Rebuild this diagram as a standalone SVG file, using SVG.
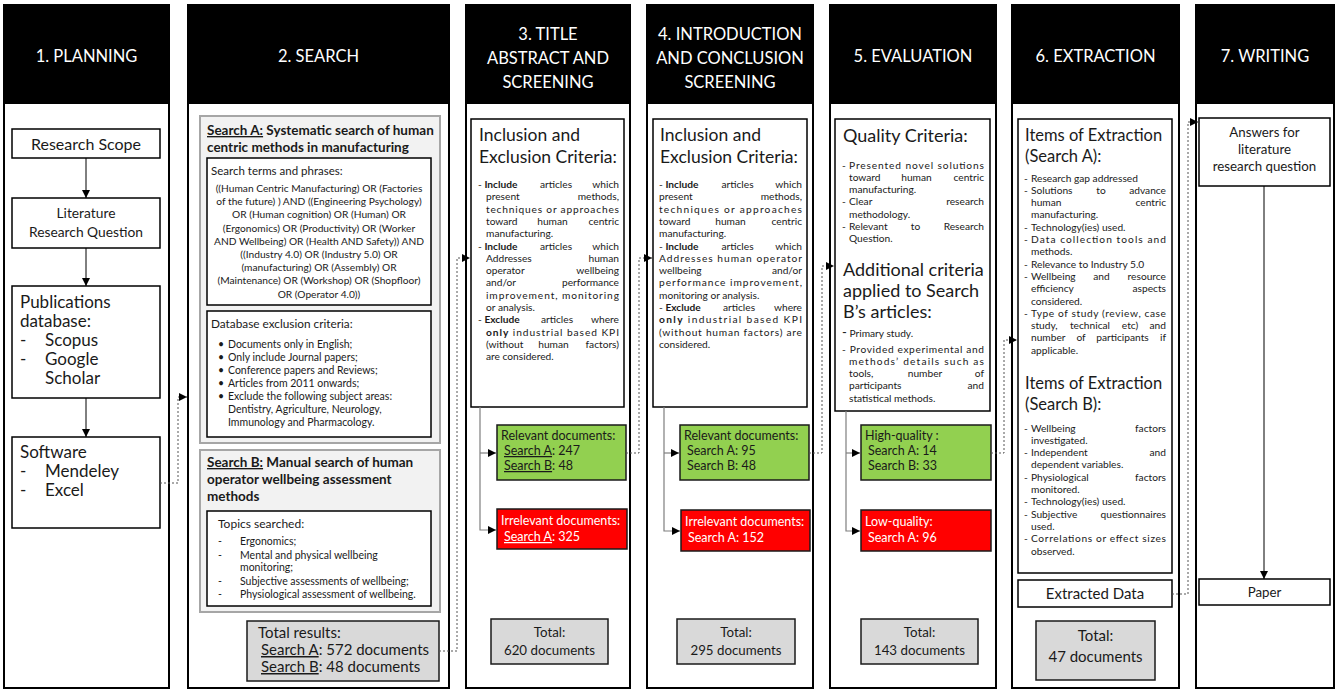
<svg xmlns="http://www.w3.org/2000/svg" width="1339" height="691" viewBox="0 0 1339 691">
<defs>
<style>
text{font-family:Lato,"Liberation Sans",sans-serif;fill:#1a1a1a}
.col{fill:#fff;stroke:#000;stroke-width:2}
.hdr{fill:#000}
.ht{font-size:16.5px;fill:#fff;text-anchor:middle}
.box{fill:#fff;stroke:#000;stroke-width:1.5}
.gbox{fill:#f2f2f2;stroke:#a6a6a6;stroke-width:2}
.green{fill:#92d050;stroke:#1a1a1a;stroke-width:1.5}
.red{fill:#ff0000;stroke:#1a1a1a;stroke-width:1.5}
.tot{fill:#d9d9d9;stroke:#1a1a1a;stroke-width:1.5}
.ln{stroke:#000;stroke-width:1;fill:none}
.gl{stroke:#7f7f7f;stroke-width:1.2;fill:none}
.dot{stroke:#555;stroke-width:1;stroke-dasharray:2 2;fill:none}
.c{text-anchor:middle}
.e{text-anchor:end}
.s{font-size:10.2px}
.q{font-size:10.2px;text-anchor:middle}
.t17{font-size:17.5px}
.t16{font-size:16.5px}
.t15{font-size:15px}
.t13{font-size:13.3px}
.t12{font-size:12.5px}
.w{fill:#fff}
.b{font-weight:bold}
.u{text-decoration:underline}
</style>
<marker id="ah" viewBox="0 0 10 10" refX="10" refY="5" markerWidth="8" markerHeight="8" markerUnits="userSpaceOnUse" orient="auto"><path d="M0,0L10,5L0,10z" fill="#000"/></marker>
</defs>

<!-- Column 1 -->
<g id="col1">
<rect class="col" x="4" y="5" width="165" height="683"/>
<rect class="hdr" x="4" y="5" width="165" height="99"/>
<text class="ht" x="86.5" y="62">1. PLANNING</text>
</g>
<g id="research-scope">
<rect class="box" x="12" y="129" width="148" height="29"/>
<text class="c" font-size="16" x="86" y="149.5">Research Scope</text>
</g>
<g id="literature-question">
<rect class="box" x="12" y="198" width="148" height="50"/>
<text class="c" font-size="13.8" x="86" y="218">Literature</text>
<text class="c" font-size="13.8" x="86" y="237">Research Question</text>
</g>
<g id="publications">
<rect class="box" x="12" y="286" width="148" height="112"/>
<text font-size="17" x="20" y="308">Publications</text>
<text font-size="17" x="20" y="327">database:</text>
<text font-size="17" x="20" y="346">-</text><text font-size="17" x="45" y="346">Scopus</text>
<text font-size="17" x="20" y="365">-</text><text font-size="17" x="45" y="365">Google</text>
<text font-size="17" x="45" y="384">Scholar</text>
</g>
<g id="software">
<rect class="box" x="12" y="437" width="148" height="91"/>
<text font-size="17" x="20" y="458">Software</text>
<text font-size="17" x="20" y="477">-</text><text font-size="17" x="45" y="477">Mendeley</text>
<text font-size="17" x="20" y="496">-</text><text font-size="17" x="45" y="496">Excel</text>
</g>

<!-- Column 2 -->
<g id="col2">
<rect class="col" x="188" y="5" width="261" height="683"/>
<rect class="hdr" x="188" y="5" width="261" height="99"/>
<text class="ht" x="318.5" y="62">2. SEARCH</text>
</g>
<g id="search-a">
<rect class="gbox" x="200" y="116" width="240" height="327"/>
<text class="b" font-size="13.5" x="207" y="135"><tspan class="u">Search A:</tspan> Systematic search of human</text>
<text class="b" font-size="13.5" x="207" y="152">centric methods in manufacturing</text>
<rect class="box" x="207" y="158" width="224" height="147"/>
<text font-size="11.5" x="211" y="175">Search terms and phrases:</text>
<text class="q" x="319" y="192">((Human Centric Manufacturing) OR (Factories</text>
<text class="q" x="319" y="205.2">of the future) ) AND ((Engineering Psychology)</text>
<text class="q" x="319" y="218.4">OR (Human cognition) OR (Human) OR</text>
<text class="q" x="319" y="231.6">(Ergonomics) OR (Productivity) OR (Worker</text>
<text class="q" x="319" y="244.8">AND Wellbeing) OR (Health AND Safety)) AND</text>
<text class="q" x="319" y="258">((Industry 4.0) OR (Industry 5.0) OR</text>
<text class="q" x="319" y="271.2">(manufacturing) OR (Assembly) OR</text>
<text class="q" x="319" y="284.4">(Maintenance) OR (Workshop) OR (Shopfloor)</text>
<text class="q" x="319" y="297.6">OR (Operator 4.0))</text>
<rect class="box" x="207" y="311" width="224" height="126"/>
<text font-size="11.8" x="211" y="328">Database exclusion criteria:</text>
<g font-size="10.5">
<text x="218" y="348">•</text><text x="228" y="348">Documents only in English;</text>
<text x="218" y="361">•</text><text x="228" y="361">Only include Journal papers;</text>
<text x="218" y="374">•</text><text x="228" y="374">Conference papers and Reviews;</text>
<text x="218" y="387">•</text><text x="228" y="387">Articles from 2011 onwards;</text>
<text x="218" y="400">•</text><text x="228" y="400">Exclude the following subject areas:</text>
<text x="228" y="413">Dentistry, Agriculture, Neurology,</text>
<text x="228" y="426">Immunology and Pharmacology.</text>
</g>
</g>
<g id="search-b">
<rect class="gbox" x="200" y="450" width="240" height="162"/>
<text class="b" font-size="13.5" x="207" y="467"><tspan class="u">Search B:</tspan> Manual search of human</text>
<text class="b" font-size="13.5" x="207" y="484">operator wellbeing assessment</text>
<text class="b" font-size="13.5" x="207" y="501">methods</text>
<rect class="box" x="207" y="511" width="224" height="95"/>
<text font-size="12" x="218" y="528">Topics searched:</text>
<g font-size="10.5">
<text x="218" y="545">-</text><text x="240" y="545">Ergonomics;</text>
<text x="218" y="558.5">-</text><text x="240" y="558.5">Mental and physical wellbeing</text>
<text x="240" y="571">monitoring;</text>
<text x="218" y="584.5">-</text><text x="240" y="584.5">Subjective assessments of wellbeing;</text>
<text x="218" y="598">-</text><text x="240" y="598">Physiological assessment of wellbeing.</text>
</g>
</g>
<g id="total-results">
<rect class="tot" x="247" y="621" width="192" height="60"/>
<text class="t15" x="258" y="638">Total results:</text>
<text class="t15" x="261" y="655"><tspan class="u">Search A</tspan>: 572 documents</text>
<text class="t15" x="261" y="672"><tspan class="u">Search B</tspan>: 48 documents</text>
</g>

<!-- Column 3 -->
<g id="col3">
<rect class="col" x="466" y="5" width="164" height="683"/>
<rect class="hdr" x="466" y="5" width="164" height="99"/>
<text class="ht" x="548" y="40">3. TITLE</text>
<text class="ht" x="548" y="64">ABSTRACT AND</text>
<text class="ht" x="548" y="88">SCREENING</text>
</g>
<g id="criteria3">
<rect class="box" x="471" y="119" width="153" height="288"/>
<text class="t17" x="479" y="141">Inclusion and</text>
<text class="t17" x="479" y="163">Exclusion Criteria:</text>
<g class="s">
<text x="478" y="188">- <tspan class="b">Include</tspan></text><text class="c" x="556" y="188">articles</text><text class="e" x="619" y="188">which</text>
<text x="486" y="200.3">present</text><text class="e" x="619" y="200.3">methods,</text>
<text x="486" y="212.6" textLength="133" lengthAdjust="spacing">techniques or approaches</text>
<text x="486" y="224.9">toward</text><text class="c" x="552.5" y="224.9">human</text><text class="e" x="619" y="224.9">centric</text>
<text x="486" y="237.2">manufacturing.</text>
<text x="478" y="249.5">- <tspan class="b">Include</tspan></text><text class="c" x="556" y="249.5">articles</text><text class="e" x="619" y="249.5">which</text>
<text x="486" y="261.8">Addresses</text><text class="e" x="619" y="261.8">human</text>
<text x="486" y="274.1">operator</text><text class="e" x="619" y="274.1">wellbeing</text>
<text x="486" y="286.4">and/or</text><text class="e" x="619" y="286.4">performance</text>
<text x="486" y="298.7" textLength="133" lengthAdjust="spacing">improvement, monitoring</text>
<text x="486" y="311">or analysis.</text>
<text x="478" y="323.3">- <tspan class="b">Exclude</tspan></text><text class="c" x="557" y="323.3">articles</text><text class="e" x="619" y="323.3">where</text>
<text x="486" y="335.6" textLength="133" lengthAdjust="spacing"><tspan class="b">only</tspan> industrial based KPI</text>
<text x="486" y="347.9">(without</text><text class="c" x="553.5" y="347.9">human</text><text class="e" x="619" y="347.9">factors)</text>
<text x="486" y="360.2">are considered.</text>
</g>
</g>
<g id="relevant3">
<rect class="green" x="497" y="425" width="129" height="55"/>
<text class="t12" x="501" y="440">Relevant documents:</text>
<text class="t12" x="504" y="455"><tspan class="u">Search A</tspan>: 247</text>
<text class="t12" x="504" y="470"><tspan class="u">Search B</tspan>: 48</text>
</g>
<g id="irrelevant3">
<rect class="red" x="497" y="509" width="130" height="40"/>
<text class="t12 w" x="501" y="525">Irrelevant documents:</text>
<text class="t12 w" x="504" y="541"><tspan class="u">Search A</tspan>: 325</text>
</g>
<g id="total3">
<rect class="tot" x="491" y="619" width="117" height="45"/>
<text class="t13 c" x="549.5" y="637">Total:</text>
<text class="t13 c" x="549.5" y="655">620 documents</text>
</g>

<!-- Column 4 -->
<g id="col4">
<rect class="col" x="647" y="5" width="166" height="683"/>
<rect class="hdr" x="647" y="5" width="166" height="99"/>
<text class="ht" x="730" y="40">4. INTRODUCTION</text>
<text class="ht" x="730" y="64">AND CONCLUSION</text>
<text class="ht" x="730" y="88">SCREENING</text>
</g>
<g id="criteria4">
<rect class="box" x="653" y="119" width="154" height="288"/>
<text class="t17" x="660" y="141">Inclusion and</text>
<text class="t17" x="660" y="163">Exclusion Criteria:</text>
<g class="s">
<text x="659" y="188">- <tspan class="b">Include</tspan></text><text class="c" x="737.5" y="188">articles</text><text class="e" x="802" y="188">which</text>
<text x="659" y="200.3">present</text><text class="e" x="802" y="200.3">methods,</text>
<text x="659" y="212.6" textLength="143" lengthAdjust="spacing">techniques or approaches</text>
<text x="659" y="224.9">toward</text><text class="c" x="730.5" y="224.9">human</text><text class="e" x="802" y="224.9">centric</text>
<text x="659" y="237.2">manufacturing.</text>
<text x="659" y="249.5">- <tspan class="b">Include</tspan></text><text class="c" x="737.5" y="249.5">articles</text><text class="e" x="802" y="249.5">which</text>
<text x="659" y="261.8" textLength="143" lengthAdjust="spacing">Addresses human operator</text>
<text x="659" y="274.1">wellbeing</text><text class="e" x="802" y="274.1">and/or</text>
<text x="659" y="286.4" textLength="143" lengthAdjust="spacing">performance improvement,</text>
<text x="659" y="298.7">monitoring or analysis.</text>
<text x="659" y="311">- <tspan class="b">Exclude</tspan></text><text class="c" x="739" y="311">articles</text><text class="e" x="802" y="311">where</text>
<text x="659" y="323.3" textLength="143" lengthAdjust="spacing"><tspan class="b">only</tspan> industrial based KPI</text>
<text x="659" y="335.6" textLength="143" lengthAdjust="spacing">(without human factors) are</text>
<text x="659" y="347.9">considered.</text>
</g>
</g>
<g id="relevant4">
<rect class="green" x="680" y="425" width="129" height="55"/>
<text class="t12" x="684" y="440">Relevant documents:</text>
<text class="t12" x="687" y="455">Search A: 95</text>
<text class="t12" x="687" y="470">Search B: 48</text>
</g>
<g id="irrelevant4">
<rect class="red" x="681" y="510" width="129" height="41"/>
<text class="t12 w" x="685" y="526">Irrelevant documents:</text>
<text class="t12 w" x="688" y="542">Search A: 152</text>
</g>
<g id="total4">
<rect class="tot" x="677" y="619" width="118" height="45"/>
<text class="t13 c" x="736" y="637">Total:</text>
<text class="t13 c" x="736" y="655">295 documents</text>
</g>

<!-- Column 5 -->
<g id="col5">
<rect class="col" x="830" y="5" width="166" height="683"/>
<rect class="hdr" x="830" y="5" width="166" height="99"/>
<text class="ht" x="913" y="62">5. EVALUATION</text>
</g>
<g id="quality5">
<rect class="box" x="835" y="119" width="155" height="292"/>
<text font-size="18" x="843" y="142">Quality Criteria:</text>
<g class="s">
<text x="842" y="168.5">-</text><text x="849" y="168.5" textLength="135" lengthAdjust="spacing">Presented novel solutions</text>
<text x="849" y="180.8">toward</text><text class="c" x="916.5" y="180.8">human</text><text class="e" x="984" y="180.8">centric</text>
<text x="849" y="193.1">manufacturing.</text>
<text x="842" y="205.4">-</text><text x="849" y="205.4">Clear</text><text class="e" x="984" y="205.4">research</text>
<text x="849" y="217.7">methodology.</text>
<text x="842" y="230">-</text><text x="849" y="230">Relevant</text><text class="c" x="915.5" y="230">to</text><text class="e" x="984" y="230">Research</text>
<text x="849" y="242.3">Question.</text>
</g>
<text font-size="18" x="843" y="276">Additional criteria</text>
<text font-size="18" x="843" y="297">applied to Search</text>
<text font-size="18" x="843" y="318">B’s articles:</text>
<g class="s">
<text x="842" y="337"><tspan font-size="13">-</tspan> Primary study.</text>
<text x="842" y="352.5" textLength="142" lengthAdjust="spacing">- Provided experimental and</text>
<text x="849" y="364.8" textLength="135" lengthAdjust="spacing">methods’ details such as</text>
<text x="849" y="377.1">tools,</text><text class="c" x="925" y="377.1">number</text><text class="e" x="984" y="377.1">of</text>
<text x="849" y="389.4">participants</text><text class="e" x="984" y="389.4">and</text>
<text x="849" y="401.7">statistical methods.</text>
</g>
</g>
<g id="high5">
<rect class="green" x="861" y="425" width="130" height="55"/>
<text class="t12" x="865" y="440">High-quality :</text>
<text class="t12" x="868" y="455">Search A: 14</text>
<text class="t12" x="868" y="470">Search B: 33</text>
</g>
<g id="low5">
<rect class="red" x="861" y="510" width="130" height="41"/>
<text class="t12 w" x="865" y="526">Low-quality:</text>
<text class="t12 w" x="868" y="542">Search A: 96</text>
</g>
<g id="total5">
<rect class="tot" x="861" y="619" width="117" height="45"/>
<text class="t13 c" x="919.5" y="637">Total:</text>
<text class="t13 c" x="919.5" y="655">143 documents</text>
</g>

<!-- Column 6 -->
<g id="col6">
<rect class="col" x="1012" y="5" width="167" height="683"/>
<rect class="hdr" x="1012" y="5" width="167" height="99"/>
<text class="ht" x="1095.5" y="62">6. EXTRACTION</text>
</g>
<g id="items6">
<rect class="box" x="1018" y="119" width="154" height="454"/>
<text class="t16" x="1025" y="141">Items of Extraction</text>
<text class="t16" x="1025" y="162">(Search A):</text>
<g class="s">
<text x="1024" y="181.5">-</text><text x="1031" y="181.5">Research gap addressed</text>
<text x="1024" y="193.8">-</text><text x="1031" y="193.8">Solutions</text><text class="c" x="1101" y="193.8">to</text><text class="e" x="1166" y="193.8">advance</text>
<text x="1031" y="206.1">human</text><text class="e" x="1166" y="206.1">centric</text>
<text x="1031" y="218.4">manufacturing.</text>
<text x="1024" y="230.7">-</text><text x="1031" y="230.7">Technology(ies) used.</text>
<text x="1024" y="243">-</text><text x="1031" y="243" textLength="135" lengthAdjust="spacing">Data collection tools and</text>
<text x="1031" y="255.3">methods.</text>
<text x="1024" y="267.6">-</text><text x="1031" y="267.6">Relevance to Industry 5.0</text>
<text x="1024" y="279.9">-</text><text x="1031" y="279.9">Wellbeing</text><text class="c" x="1101.5" y="279.9">and</text><text class="e" x="1166" y="279.9">resource</text>
<text x="1031" y="292.2">efficiency</text><text class="e" x="1166" y="292.2">aspects</text>
<text x="1031" y="304.5">considered.</text>
<text x="1024" y="316.8">-</text><text x="1031" y="316.8" textLength="135" lengthAdjust="spacing">Type of study (review, case</text>
<text x="1031" y="329.1">study,</text><text class="c" x="1090" y="329.1">technical</text><text class="c" x="1130" y="329.1">etc)</text><text class="e" x="1166" y="329.1">and</text>
<text x="1031" y="341.4">number</text><text class="c" x="1081" y="341.4">of</text><text class="c" x="1122.5" y="341.4">participants</text><text class="e" x="1166" y="341.4">if</text>
<text x="1031" y="353.7">applicable.</text>
</g>
<text class="t16" x="1025" y="389">Items of Extraction</text>
<text class="t16" x="1025" y="410">(Search B):</text>
<g class="s">
<text x="1024" y="431.5">-</text><text x="1031" y="431.5">Wellbeing</text><text class="e" x="1166" y="431.5">factors</text>
<text x="1031" y="443.8">investigated.</text>
<text x="1024" y="456.1">-</text><text x="1031" y="456.1">Independent</text><text class="e" x="1166" y="456.1">and</text>
<text x="1031" y="468.4">dependent variables.</text>
<text x="1024" y="480.7">-</text><text x="1031" y="480.7">Physiological</text><text class="e" x="1166" y="480.7">factors</text>
<text x="1031" y="493">monitored.</text>
<text x="1024" y="505.3">-</text><text x="1031" y="505.3">Technology(ies) used.</text>
<text x="1024" y="517.6">-</text><text x="1031" y="517.6">Subjective</text><text class="e" x="1166" y="517.6">questionnaires</text>
<text x="1031" y="529.9">used.</text>
<text x="1024" y="542.2">-</text><text x="1031" y="542.2" textLength="135" lengthAdjust="spacing">Correlations or effect sizes</text>
<text x="1031" y="554.5">observed.</text>
</g>
</g>
<g id="extracted">
<rect class="box" x="1018" y="580" width="154" height="27"/>
<text class="t15 c" x="1095" y="599">Extracted Data</text>
</g>
<g id="total6">
<rect class="tot" x="1036" y="621" width="119" height="59"/>
<text class="t15 c" x="1095.5" y="641">Total:</text>
<text class="t15 c" x="1095.5" y="662">47 documents</text>
</g>

<!-- Column 7 -->
<g id="col7">
<rect class="col" x="1196" y="5" width="138" height="683"/>
<rect class="hdr" x="1196" y="5" width="138" height="99"/>
<text class="ht" x="1265" y="62">7. WRITING</text>
</g>
<g id="answers">
<rect class="box" x="1199" y="118" width="131" height="68"/>
<text class="t13 c" x="1264.5" y="137">Answers for</text>
<text class="t13 c" x="1264.5" y="154">literature</text>
<text class="t13 c" x="1264.5" y="171">research question</text>
</g>
<g id="paper">
<rect class="box" x="1199" y="579" width="131" height="26"/>
<text class="t13 c" x="1264.5" y="597">Paper</text>
</g>

<!-- Connectors -->
<g id="connectors">
<line class="ln" x1="86" y1="158" x2="86" y2="198" marker-end="url(#ah)"/>
<line class="ln" x1="86" y1="248" x2="86" y2="286" marker-end="url(#ah)"/>
<line class="ln" x1="86" y1="398" x2="86" y2="437" marker-end="url(#ah)"/>
<polyline class="dot" points="160,483 178,483 178,397 187,397" marker-end="url(#ah)"/>
<polyline class="dot" points="439,651 457,651 457,258 470,258" marker-end="url(#ah)"/>
<polyline class="gl" points="480,407 480,530 496,530" marker-end="url(#ah)"/>
<line class="gl" x1="480" y1="453" x2="496" y2="453" marker-end="url(#ah)"/>
<polyline class="dot" points="626,453 639,453 639,258 652,258" marker-end="url(#ah)"/>
<polyline class="gl" points="664,407 664,531 680,531" marker-end="url(#ah)"/>
<line class="gl" x1="664" y1="453" x2="679" y2="453" marker-end="url(#ah)"/>
<polyline class="dot" points="809,453 822,453 822,266 834,266" marker-end="url(#ah)"/>
<polyline class="gl" points="846,411 846,531 860,531" marker-end="url(#ah)"/>
<line class="gl" x1="846" y1="453" x2="860" y2="453" marker-end="url(#ah)"/>
<polyline class="dot" points="991,453 1004,453 1004,340 1017,340" marker-end="url(#ah)"/>
<polyline class="dot" points="1172,594 1188,594 1188,122 1198,122" marker-end="url(#ah)"/>
<line class="ln" x1="1264" y1="186" x2="1264" y2="579" marker-end="url(#ah)"/>
</g>
</svg>
